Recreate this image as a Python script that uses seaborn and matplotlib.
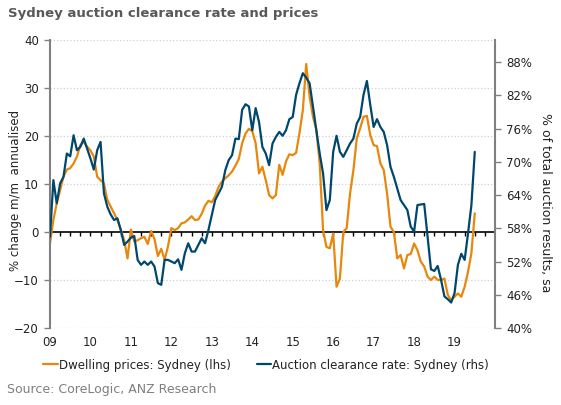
import numpy as np
import pandas as pd
import seaborn as sns
import matplotlib.pyplot as plt

sns.set_style("white")
plt.rcParams['font.family'] = ['DejaVu Sans']

# monthly data, Jan 2009 - Jul 2019
prices = [-2.4, 2.5, 6, 8.7, 11.5, 13, 13.3, 14.3, 15.7, 18.1,
          18.8, 17.8, 17, 15.7, 11.5, 10.8, 10.1, 6.7, 5.3, 3.9,
          2.5, 0.4, -1.7, -5.5, 0.5, -2, -1.7, -1.3, -1, -2.5,
          0.2, -1.5, -5, -3.5, -5.8, -3, 0.8, 0.4, 0.8, 1.8,
          2, 2.6, 3.3, 2.5, 2.6, 3.8, 5.5, 6.5, 6.2, 7.5,
          9.4, 10.5, 11.2, 11.8, 12.6, 13.8, 15.2, 18.5, 20.5, 21.5,
          21, 18.5, 12.2, 13.6, 10.8, 7.7, 7, 7.7, 14, 11.9,
          14.7, 16.2, 16, 16.5, 20.6, 25.4, 35, 28.2, 24, 21.3,
          14.3, 0.4, -3.1, -3.4, -0.3, -11.4, -9.7, 0, 0.8, 8,
          12.9, 19.5, 21.6, 24, 24.2, 20.2, 18.1, 17.9, 14.3, 12.9,
          8, 1.1, 0, -5.5, -4.8, -7.6, -4.8, -4.6, -2.4, -3.8,
          -6.2, -7.2, -9.3, -10, -9.3, -10, -10, -9.7, -13.1, -14.2,
          -13.5, -12.8, -13.5, -11.4, -8.3, -4.4, 3.9]

clearance = [56.5, 66.7, 62.5, 66.1, 67.3, 71.5, 71, 74.8, 72.1, 72.7,
             74.2, 72.4, 70.6, 68.6, 72.1, 73.6, 64.3, 61.9, 60.5, 59.5,
             59.8, 57.7, 55, 55.6, 56.3, 56.6, 52.3, 51.4, 52, 51.4,
             52, 51.1, 48.1, 47.8, 52.3, 52.3, 52, 51.7, 52.4, 50.5,
             53.5, 55.3, 53.8, 53.8, 55, 56.2, 55.3, 57.7, 60.4, 63.1,
             64.3, 65.5, 68.5, 70.3, 71.2, 74.2, 74.1, 79.4, 80.4, 80.0,
             75.7, 79.7, 77.2, 72.7, 71.5, 69.4, 73.3, 74.5, 75.4, 74.7,
             75.7, 77.7, 78.1, 82.1, 84.2, 86, 85.2, 84.2, 80, 75.7,
             71.5, 67.9, 61.3, 63.1, 71.8, 74.7, 71.8, 70.9, 72.1, 73.3,
             74.2, 76.9, 78.1, 82.1, 84.6, 80.3, 76.3, 77.7, 76.3, 75.4,
             73, 69.1, 67.3, 65.2, 63.1, 62.2, 61.3, 58.3, 57.4, 62.2,
             62.3, 62.4, 56.5, 50.6, 50.3, 51.2, 48.7, 45.7, 45.2, 44.6,
             46.3, 51.4, 53.4, 52.3, 57.1, 62.2, 71.8]

years = list(range(2009, 2020))
year_labels = ['09', '10', '11', '12', '13', '14', '15', '16', '17', '18', '19']
left_ticks = [-20, -10, 0, 10, 20, 30, 40]
right_ticks = [40, 46, 52, 58, 64, 70, 76, 82, 88]

dates = pd.date_range('2009-01-01', periods=len(prices), freq='MS')
df = pd.DataFrame({'t': dates.year + (dates.month - 1) / 12,
                   'prices': prices, 'clearance': clearance})

orange = '#E8870C'
navy = '#00476E'
grey = '#808080'
txt = '#222222'

fig = plt.figure(figsize=(5.61, 4.05), dpi=100)
ax = fig.add_axes([50 / 561, 1 - 328 / 405, 445 / 561, 288 / 405])
ax2 = ax.twinx()

sns.lineplot(data=df, x='t', y='prices', ax=ax, color=orange, linewidth=1.6,
             label='Dwelling prices: Sydney (lhs)', legend=False)
sns.lineplot(data=df, x='t', y='clearance', ax=ax2, color=navy, linewidth=1.6,
             label='Auction clearance rate: Sydney (rhs)', legend=False)

ax.set_xlim(2009, 2020)
ax.set_ylim(-20, 40)
ax.set_yticks(left_ticks)
ax.set_xticks(years)
ax.set_xticklabels(year_labels)
ax.tick_params(axis='x', length=0, labelsize=8.5, pad=6, colors=txt)
ax.tick_params(axis='y', left=True, direction='out', length=4, width=1,
               color=grey, labelsize=8.5, labelcolor=txt, pad=4)
ax.set_xlabel('')
ax.set_ylabel('% change m/m  annualised', fontsize=8.5, color=txt)
ax.yaxis.set_label_coords(-0.062, 0.476)
for y in left_ticks:
    if y != 0:
        ax.axhline(y, color='#C9D3DA', linestyle=':', linewidth=0.9, zorder=0)
for s in ['top', 'bottom', 'right']:
    ax.spines[s].set_visible(False)
ax.spines['left'].set_color(grey)
ax.spines['left'].set_linewidth(1.5)

# zero line with quarterly ticks
sec = ax.secondary_xaxis(1 / 3)
sec.set_xticks(np.arange(2009.25, 2020, 0.25))
sec.set_xticklabels([])
sec.tick_params(axis='x', direction='out', length=3, width=1, color='black')
sec.spines['bottom'].set_color('black')
sec.spines['bottom'].set_linewidth(1.2)

ax2.set_ylim(40, 92)
ax2.set_yticks(right_ticks)
ax2.set_yticklabels([f'{v}%' for v in right_ticks])
ax2.tick_params(axis='y', right=True, direction='out', length=4, width=1,
                color=grey, labelsize=8.5, labelcolor=txt, pad=4)
ax2.set_ylabel('% of total auction results, sa', fontsize=9, color=txt,
               rotation=270, va='center')
ax2.yaxis.set_label_coords(1.113, 0.434)
for s in ['top', 'bottom', 'left']:
    ax2.spines[s].set_visible(False)
ax2.spines['right'].set_color(grey)
ax2.spines['right'].set_linewidth(1.5)
ax2.grid(False)

h1, l1 = ax.get_legend_handles_labels()
h2, l2 = ax2.get_legend_handles_labels()
fig.legend(h1 + h2, l1 + l2, loc='center', bbox_to_anchor=(266 / 561, 1 - 365 / 405),
           ncol=2, frameon=False, handlelength=1.2, handletextpad=0.1,
           columnspacing=2.2, fontsize=8.5, labelcolor=txt)

fig.text(8 / 561, 1 - 13 / 405, 'Sydney auction clearance rate and prices',
         fontsize=9.5, fontweight='bold', color='#595959', va='center')
fig.text(7 / 561, 1 - 390 / 405, 'Source: CoreLogic, ANZ Research',
         fontsize=9, color='#7F7F7F', va='center')

fig.savefig('out.png', dpi=100)
